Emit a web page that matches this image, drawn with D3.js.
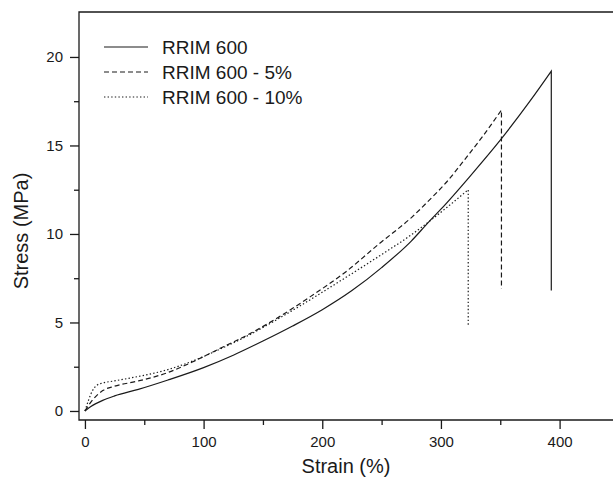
<!DOCTYPE html>
<html>
<head>
<meta charset="utf-8">
<script src="https://cdn.jsdelivr.net/npm/d3@7"></script>
<style>
  body { margin: 0; background: #fff; }
  svg { display: block; font-family: "Liberation Sans", Arial, sans-serif; }
</style>
</head>
<body>
<svg id="chart" width="613" height="479"></svg>
<script>
// series: [strain %, stress MPa], last point is where the sample broke
const seriesNames = ["RRIM 600", "RRIM 600 - 5%", "RRIM 600 - 10%"];
const rrim600 = [[0,0],[5,0.25],[15,0.6],[25,0.85],[45,1.22],[70,1.75],[100,2.45],[125,3.15],
  [150,3.95],[175,4.8],[200,5.72],[225,6.8],[250,8.1],[275,9.6],[290,10.7],[300,11.4],
  [325,13.3],[350,15.3],[375,17.5],[393,19.2]];
const rrim600_5 = [[0,0],[5,0.5],[15,1.15],[25,1.4],[44,1.68],[69,2.15],[90,2.75],[114,3.54],
  [140,4.4],[164,5.33],[190,6.46],[220,7.87],[248,9.45],[276,10.98],[290,11.9],[305,12.95],
  [320,14.2],[335,15.5],[351,17.0]];
const rrim600_10 = [[0,0],[3,0.6],[6,1.1],[10,1.45],[15,1.58],[24,1.69],[45,1.95],[69,2.32],
  [90,2.8],[114,3.5],[140,4.35],[164,5.25],[195,6.5],[220,7.55],[248,8.75],[276,10.0],[290,10.7],
  [305,11.5],[315,12.05],[323,12.5]];
const breakStress = [6.8, 6.9, 4.8];
const xTicks = [0, 100, 200, 300, 400];
const yTicks = [0, 5, 10, 15, 20];

const svg = d3.select("#chart");
const mLeft = 79, mRight = 613, mTop = 12, mBottom = 420;

const x = d3.scaleLinear().domain([-5, 445]).range([mLeft, mRight]);
const y = d3.scaleLinear().domain([-0.51, 22.54]).range([mBottom, mTop]);

const ink = "#1a1a1a";
const font = "Liberation Sans, Arial, sans-serif";

// frame (left, bottom, top; right side runs off the picture)
svg.append("path")
  .attr("d", `M${mRight},${mTop}H${mLeft}V${mBottom}H${mRight}`)
  .attr("fill", "none").attr("stroke", ink).attr("stroke-width", 1.3);

// x axis
const xAxis = svg.append("g").attr("transform", `translate(0,${mBottom})`);
xAxis.append("g").call(d3.axisBottom(x).tickValues(d3.range(50, 445, 100)).tickSize(5).tickFormat(""));
xAxis.append("g").call(d3.axisBottom(x).tickValues(xTicks).tickSize(9).tickPadding(7));
xAxis.selectAll(".domain").remove();
xAxis.selectAll("line").attr("stroke", ink).attr("stroke-width", 1.3);
xAxis.selectAll("text").attr("font-size", 15).attr("fill", ink).attr("font-family", font);

// y axis
const yAxis = svg.append("g").attr("transform", `translate(${mLeft},0)`);
yAxis.append("g").call(d3.axisLeft(y).tickValues(d3.range(2.5, 22.5, 5)).tickSize(5).tickFormat(""));
yAxis.append("g").call(d3.axisLeft(y).tickValues(yTicks).tickSize(9).tickPadding(7));
yAxis.selectAll(".domain").remove();
yAxis.selectAll("line").attr("stroke", ink).attr("stroke-width", 1.3);
yAxis.selectAll("text").attr("font-size", 15).attr("fill", ink).attr("font-family", font);

// axis titles
svg.append("text").attr("x", (mLeft + mRight) / 2).attr("y", 473)
  .attr("text-anchor", "middle").attr("font-size", 20).attr("fill", ink).text("Strain (%)");
svg.append("text").attr("transform", `translate(28,231) rotate(-90)`)
  .attr("text-anchor", "middle").attr("font-size", 20).attr("fill", ink).text("Stress (MPa)");

// curves: smooth loading part, then a straight drop at break
const dashes = [null, "5,3", "1.4,2.2"];
const curve = d3.line().x(d => x(d[0])).y(d => y(d[1])).curve(d3.curveMonotoneX);
[rrim600, rrim600_5, rrim600_10].forEach((s, i) => {
  svg.append("path").datum(s)
    .attr("d", d => curve(d) + `V${y(breakStress[i])}`)
    .attr("fill", "none")
    .attr("stroke", ink)
    .attr("stroke-width", 1.2)
    .attr("stroke-dasharray", dashes[i]);
});

// legend
const legend = svg.append("g");
seriesNames.forEach((name, i) => {
  const ly = 47 + i * 25;
  legend.append("line").attr("x1", 104).attr("x2", 148).attr("y1", ly).attr("y2", ly)
    .attr("stroke", ink).attr("stroke-width", 1.2).attr("stroke-dasharray", dashes[i]);
  legend.append("text").attr("x", 162).attr("y", ly + 7).attr("font-size", 19)
    .attr("fill", ink).text(name);
});
</script>
</body>
</html>
